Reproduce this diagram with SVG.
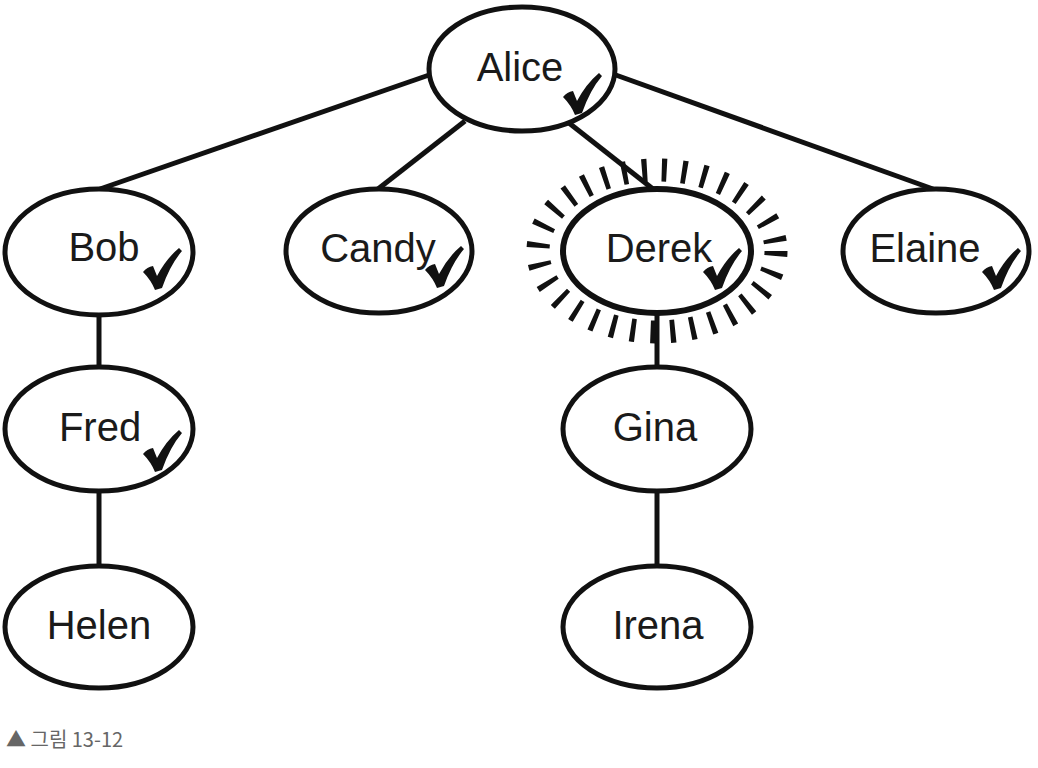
<svg xmlns="http://www.w3.org/2000/svg" width="1038" height="768" viewBox="0 0 1038 768">
<style>
.node{fill:#fff;stroke:#111;stroke-width:5}
.lbl{font-family:"Liberation Sans",Arial,sans-serif;font-size:40px;fill:#1a1a1a;text-anchor:middle}
.edge{stroke:#111;stroke-width:5;fill:none}
.burst{fill:none;stroke:#111;stroke-width:23;stroke-dasharray:5 15}
.cap{font-family:"Noto Sans CJK KR","Noto Sans",sans-serif;font-size:20px;fill:#666}
</style>
<defs>
<path id="chk" d="M0,24 Q4,19 10,18 L14,28 Q23,11 36,0 L39,3 Q27,17 19,40 L12,42 Q8,32 0,24 Z" fill="#111"/>
</defs>
<rect width="1038" height="768" fill="#fff"/>
<g id="connectors">
<line class="edge" x1="432" y1="74" x2="100" y2="189"/>
<line class="edge" x1="465" y1="121" x2="378" y2="189"/>
<line class="edge" x1="569" y1="123" x2="653" y2="189"/>
<line class="edge" x1="613" y1="74" x2="933" y2="189"/>
<line class="edge" x1="99" y1="314" x2="99" y2="368"/>
<line class="edge" x1="99" y1="490" x2="99" y2="566"/>
<line class="edge" x1="657" y1="312" x2="657" y2="368"/>
<line class="edge" x1="657" y1="490" x2="657" y2="566"/>
</g>
<g id="burst">
<ellipse class="burst" cx="657" cy="251" rx="119" ry="81"/>
</g>
<g id="alice">
<ellipse class="node" cx="522" cy="69" rx="93" ry="62"/>
<text class="lbl" x="520" y="81">Alice</text>
<use href="#chk" x="563" y="73"/>
</g>
<g id="bob">
<ellipse class="node" cx="99" cy="252" rx="94" ry="63"/>
<text class="lbl" x="104" y="261">Bob</text>
<use href="#chk" x="143" y="248"/>
</g>
<g id="candy">
<ellipse class="node" cx="379" cy="251" rx="93" ry="62"/>
<text class="lbl" x="378" y="262">Candy</text>
<use href="#chk" x="425" y="246"/>
</g>
<g id="derek">
<ellipse class="node" cx="657" cy="251" rx="94" ry="62" style="stroke-width:6"/>
<text class="lbl" x="659" y="262">Derek</text>
<use href="#chk" x="703" y="248"/>
</g>
<g id="elaine">
<ellipse class="node" cx="936" cy="251" rx="93" ry="62"/>
<text class="lbl" x="925" y="262">Elaine</text>
<use href="#chk" x="982" y="248"/>
</g>
<g id="fred">
<ellipse class="node" cx="99" cy="429" rx="94" ry="62"/>
<text class="lbl" x="100" y="441">Fred</text>
<use href="#chk" x="143" y="430"/>
</g>
<g id="helen">
<ellipse class="node" cx="99" cy="627" rx="94" ry="61"/>
<text class="lbl" x="99" y="639">Helen</text>
</g>
<g id="gina">
<ellipse class="node" cx="657" cy="429" rx="94" ry="62"/>
<text class="lbl" x="655" y="441">Gina</text>
</g>
<g id="irena">
<ellipse class="node" cx="657" cy="627" rx="94" ry="61"/>
<text class="lbl" x="658" y="639">Irena</text>
</g>
<g id="caption">
<text class="cap" x="6" y="747">▲ 그림 13-12</text>
</g>
</svg>
